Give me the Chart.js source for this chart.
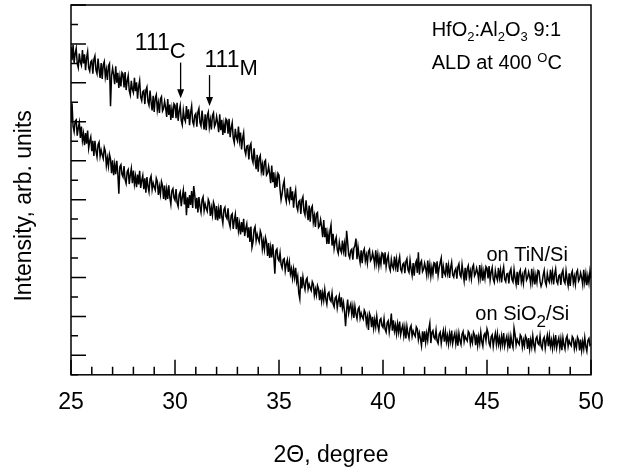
<!DOCTYPE html>
<html>
<head>
<meta charset="utf-8">
<script src="https://cdn.jsdelivr.net/npm/chart.js@4"></script>
<style>
  body { margin: 0; background: #fff; }
</style>
</head>
<body>
<canvas id="xrdChart" width="618" height="473"></canvas>
<script>
// 2Theta grid: 25.00 .. 50.00, step 0.05 degree
const angleStart = 25;
const angleStep = 0.05;

// on TiN/Si (upper curve), arb. units, 10 points per 0.5 degree
const tinSi = [
    1685, 1617, 1695, 1603, 1650, 1677, 1600, 1578, 1650, 1607,
    1590, 1668, 1600, 1647, 1565, 1628, 1660, 1577, 1560, 1608,
    1615, 1547, 1620, 1638, 1565, 1547, 1625, 1568, 1525, 1602,
    1520, 1592, 1609, 1531, 1568, 1515, 1587, 1599, 1380, 1538,
    1575, 1541, 1493, 1585, 1501, 1552, 1474, 1531, 1482, 1553,
    1545, 1477, 1555, 1463, 1510, 1537, 1460, 1438, 1510, 1467,
    1450, 1526, 1457, 1503, 1419, 1480, 1511, 1427, 1408, 1454,
    1460, 1391, 1462, 1478, 1404, 1385, 1461, 1402, 1358, 1434,
    1350, 1422, 1439, 1361, 1398, 1345, 1417, 1429, 1356, 1368,
    1405, 1373, 1325, 1417, 1335, 1388, 1310, 1367, 1320, 1393,
    1385, 1319, 1397, 1305, 1354, 1383, 1306, 1284, 1358, 1317,
    1302, 1381, 1315, 1364, 1283, 1347, 1381, 1300, 1284, 1333,
    1342, 1275, 1349, 1368, 1296, 1279, 1358, 1302, 1260, 1338,
    1257, 1331, 1349, 1272, 1311, 1260, 1333, 1346, 1275, 1289,
    1327, 1295, 1247, 1339, 1257, 1310, 1232, 1289, 1242, 1315,
    1307, 1239, 1315, 1221, 1268, 1295, 1216, 1192, 1264, 1221,
    1203, 1275, 1203, 1245, 1158, 1215, 1243, 1155, 1133, 1175,
    1178, 1107, 1175, 1188, 1112, 1091, 1164, 1102, 1056, 1130,
    1044, 1113, 1127, 1046, 1080, 1024, 1093, 1102, 1026, 1035,
    1070, 1035, 985, 1075, 990, 1040, 960, 1015, 965, 1035,
    1025, 953, 900, 931, 974, 997, 916, 890, 958, 911,
    891, 966, 897, 943, 858, 918, 949, 865, 845, 890,
    896, 827, 898, 914, 840, 821, 897, 838, 794, 870,
    787, 855, 867, 784, 817, 760, 827, 834, 757, 765,
    797, 760, 707, 795, 707, 755, 672, 725, 672, 740,
    770, 664, 725, 650, 686, 706, 643, 624, 680, 644,
    629, 690, 636, 674, 607, 740, 682, 616, 601, 638,
    645, 592, 650, 664, 700, 594, 656, 610, 577, 640,
    574, 632, 647, 586, 616, 574, 633, 644, 586, 596,
    627, 602, 565, 640, 575, 618, 557, 604, 567, 626,
    621, 567, 629, 555, 593, 615, 553, 535, 593, 559,
    545, 608, 555, 594, 529, 580, 607, 542, 529, 568,
    575, 522, 581, 596, 539, 526, 589, 544, 511, 574,
    509, 568, 584, 524, 630, 515, 575, 586, 530, 542,
    573, 548, 512, 587, 523, 566, 506, 553, 517, 576,
    572, 519, 583, 511, 550, 577, 600, 497, 557, 523,
    511, 575, 523, 562, 498, 550, 578, 514, 502, 534,
    546, 494, 554, 570, 514, 502, 566, 522, 482, 550,
    485, 545, 561, 501, 533, 493, 552, 565, 509, 521,
    548, 524, 488, 564, 500, 544, 484, 532, 496, 556,
    547, 495, 559, 487, 527, 551, 491, 475, 535, 503,
    486, 550, 498, 538, 474, 526, 554, 490, 478, 518,
    521, 469, 529, 545, 489, 477, 541, 497, 465, 529,
    462, 522, 538, 478, 510, 470, 530, 542, 486, 498,
    528, 504, 468, 544, 480, 524, 464, 512, 476, 536,
    532, 480, 455, 472, 512, 536, 476, 460, 520, 488,
    476, 540, 488, 528, 464, 516, 544, 480, 468, 508,
    514, 462, 522, 538, 482, 470, 534, 490, 458, 522,
    457, 517, 533, 473, 505, 465, 525, 537, 481, 493,
    524, 500, 464, 540, 476, 520, 460, 508, 472, 532,
    495
];

// on SiO2/Si (lower curve)
const sio2Si = [
    1302, 1395, 1276, 1249, 1304, 1310, 1229, 1269, 1297, 1217,
    1275, 1203, 1239, 1180, 1242, 1188, 1255, 1164, 1200, 1222,
    1149, 1202, 1125, 1202, 1151, 1120, 1182, 1195, 1123, 1154,
    1130, 1111, 1168, 1149, 1075, 1114, 1072, 1133, 1109, 1036,
    1102, 1026, 1081, 1031, 1099, 1037, 930, 1069, 1079, 1030,
    1017, 1072, 1003, 983, 1043, 1054, 980, 1027, 1060, 985,
    1050, 981, 1020, 964, 1029, 978, 1048, 960, 999, 1024,
    954, 1010, 936, 1016, 968, 940, 1005, 1021, 952, 986,
    965, 950, 1010, 994, 924, 967, 928, 992, 972, 903,
    972, 897, 953, 904, 973, 912, 877, 946, 957, 909,
    897, 954, 885, 865, 927, 940, 866, 913, 948, 875,
    940, 820, 912, 857, 923, 873, 944, 857, 970, 923,
    854, 909, 834, 913, 864, 835, 899, 914, 844, 877,
    855, 840, 901, 886, 816, 859, 821, 886, 866, 797,
    867, 793, 850, 802, 872, 812, 778, 848, 860, 813,
    802, 855, 783, 760, 818, 827, 750, 794, 825, 748,
    810, 740, 778, 721, 785, 733, 802, 713, 751, 775,
    704, 758, 683, 762, 655, 682, 746, 761, 690, 722,
    700, 682, 739, 720, 647, 687, 645, 706, 683, 611,
    677, 600, 654, 603, 670, 607, 520, 637, 646, 596,
    586, 626, 568, 549, 592, 597, 535, 569, 591, 529,
    577, 519, 545, 496, 544, 500, 550, 478, 505, 420,
    390, 504, 444, 503, 463, 438, 487, 497, 440, 465,
    446, 433, 478, 465, 408, 440, 409, 458, 441, 384,
    437, 379, 422, 383, 438, 390, 363, 416, 424, 387,
    377, 420, 365, 349, 395, 403, 344, 381, 406, 347,
    398, 342, 371, 325, 250, 333, 386, 317, 346, 364,
    309, 351, 292, 351, 312, 288, 337, 347, 291, 317,
    298, 286, 332, 319, 264, 297, 230, 316, 300, 245,
    298, 240, 284, 246, 301, 253, 227, 281, 289, 252,
    243, 288, 234, 219, 267, 277, 219, 257, 315, 227,
    280, 225, 255, 210, 261, 220, 274, 206, 236, 255,
    200, 244, 187, 249, 211, 188, 240, 253, 198, 225,
    209, 198, 246, 235, 181, 215, 186, 150, 223, 169,
    224, 167, 213, 177, 234, 265, 163, 217, 227, 192,
    184, 229, 175, 161, 209, 219, 161, 199, 227, 170,
    222, 169, 201, 158, 211, 172, 227, 161, 192, 213,
    160, 206, 150, 213, 177, 156, 209, 223, 170, 199,
    184, 174, 223, 213, 159, 194, 166, 219, 205, 152,
    207, 151, 197, 161, 218, 171, 147, 203, 213, 177,
    235, 215, 162, 147, 195, 205, 146, 184, 212, 158,
    210, 157, 189, 146, 198, 157, 214, 148, 178, 198,
    145, 191, 135, 198, 161, 140, 240, 206, 153, 182,
    166, 156, 205, 195, 142, 177, 148, 200, 186, 133,
    189, 133, 179, 143, 200, 154, 130, 186, 196, 161,
    154, 200, 147, 133, 182, 193, 136, 175, 203, 147,
    200, 147, 178, 135, 188, 149, 204, 139, 170, 190,
    137, 183, 127, 190, 154, 132, 185, 199, 146, 175,
    159, 149, 197, 187, 134, 168, 140, 193, 179, 125,
    181, 125, 171, 134, 191, 145, 121, 177, 187, 152,
    158
];

const xTickLabels = [25, 30, 35, 40, 45, 50];
const yMin = 0;
const yMax = 1900;

const angles = tinSi.map((_, i) => +(angleStart + i * angleStep).toFixed(2));
const toPoints = (arr) => arr.map((v, i) => ({ x: angles[i], y: v }));

const FONT = "'Liberation Sans', Arial, sans-serif";

// text pieces one after another (for sub/superscripts)
function drawRuns(ctx, x, y, runs) {
    let cx = x;
    runs.forEach(r => {
        ctx.font = `${r.size}px ${FONT}`;
        ctx.fillText(r.t, cx, y + (r.dy || 0));
        cx += ctx.measureText(r.t).width;
    });
}

function drawArrow(ctx, x, y0, y1) {
    ctx.beginPath();
    ctx.moveTo(x, y0);
    ctx.lineTo(x, y1 - 8);
    ctx.stroke();
    ctx.beginPath();
    ctx.moveTo(x, y1);
    ctx.lineTo(x - 3.5, y1 - 9);
    ctx.lineTo(x + 3.5, y1 - 9);
    ctx.closePath();
    ctx.fill();
}

const decorations = {
    id: "decorations",
    afterDraw(chart) {
        const { ctx, chartArea: a, scales: { x, y } } = chart;
        ctx.save();
        ctx.strokeStyle = "#000";
        ctx.fillStyle = "#000";
        ctx.lineWidth = 1.5;
        ctx.strokeRect(a.left, a.top, a.right - a.left, a.bottom - a.top);

        // ticks pointing inside
        ctx.beginPath();
        for (let v = 25; v <= 50; v++) {
            const px = x.getPixelForValue(v);
            const len = v % 5 === 0 ? 15 : 8;
            ctx.moveTo(px, a.bottom);
            ctx.lineTo(px, a.bottom - len);
        }
        for (let v = yMin; v <= yMax; v += 100) {
            const py = y.getPixelForValue(v);
            const len = (v / 100) % 2 === 1 ? 15 : 7;
            ctx.moveTo(a.left, py);
            ctx.lineTo(a.left + len, py);
        }
        ctx.stroke();

        ctx.textBaseline = "alphabetic";
        ctx.textAlign = "left";
        drawRuns(ctx, x.getPixelForValue(28.07), y.getPixelForValue(1668), [
            { t: "111", size: 23 }, { t: "C", size: 22, dy: 8 }
        ]);
        drawRuns(ctx, x.getPixelForValue(31.42), y.getPixelForValue(1579), [
            { t: "111", size: 23 }, { t: "M", size: 22, dy: 8 }
        ]);
        ctx.lineWidth = 1.3;
        drawArrow(ctx, x.getPixelForValue(30.27), y.getPixelForValue(1604), y.getPixelForValue(1421));
        drawArrow(ctx, x.getPixelForValue(31.66), y.getPixelForValue(1540), y.getPixelForValue(1381));

        drawRuns(ctx, x.getPixelForValue(42.34), y.getPixelForValue(1742), [
            { t: "HfO", size: 20 }, { t: "2", size: 13, dy: 5 },
            { t: ":Al", size: 20 }, { t: "2", size: 13, dy: 5 },
            { t: "O", size: 20 }, { t: "3", size: 13, dy: 5 },
            { t: " 9:1", size: 20 }
        ]);
        drawRuns(ctx, x.getPixelForValue(42.34), y.getPixelForValue(1569), [
            { t: "ALD at 400 ", size: 20 }, { t: "O", size: 13, dy: -7 }, { t: "C", size: 20 }
        ]);
        drawRuns(ctx, x.getPixelForValue(44.97), y.getPixelForValue(584), [
            { t: "on TiN/Si", size: 20 }
        ]);
        drawRuns(ctx, x.getPixelForValue(44.44), y.getPixelForValue(282), [
            { t: "on SiO", size: 20 }, { t: "2", size: 17, dy: 7 }, { t: "/Si", size: 20 }
        ]);
        ctx.restore();
    }
};

new Chart(document.getElementById("xrdChart"), {
    type: "line",
    data: {
        datasets: [
            {
                label: "on TiN/Si",
                data: toPoints(tinSi),
                borderColor: "#000",
                borderWidth: 1.5,
                pointRadius: 0,
                tension: 0,
            },
            {
                label: "on SiO2/Si",
                data: toPoints(sio2Si),
                borderColor: "#000",
                borderWidth: 1.5,
                pointRadius: 0,
                tension: 0,
            },
        ],
    },
    options: {
        responsive: false,
        devicePixelRatio: 1,
        animation: false,
        layout: { padding: { left: 0, top: 5, right: 25, bottom: 0 } },
        plugins: { legend: { display: false }, tooltip: { enabled: false } },
        scales: {
            x: {
                type: "linear",
                min: 25,
                max: 50,
                grid: { display: false, drawTicks: false },
                border: { display: false },
                afterBuildTicks: (scale) => { scale.ticks = xTickLabels.map(v => ({ value: v })); },
                ticks: { color: "#000", padding: 14.2, font: { family: FONT, size: 23 } },
                title: {
                    display: true,
                    text: "2\u0398, degree",
                    color: "#000",
                    font: { family: FONT, size: 23 },
                    padding: { top: 11.4, bottom: 3.2 },
                },
            },
            y: {
                min: yMin,
                max: yMax,
                grid: { display: false, drawTicks: false },
                border: { display: false },
                ticks: { display: false },
                title: {
                    display: true,
                    text: "Intensity, arb. units     ",
                    color: "#000",
                    font: { family: FONT, size: 23 },
                    padding: { top: 11.2, bottom: 32.2 },
                },
            },
        },
    },
    plugins: [decorations],
});
</script>
</body>
</html>
